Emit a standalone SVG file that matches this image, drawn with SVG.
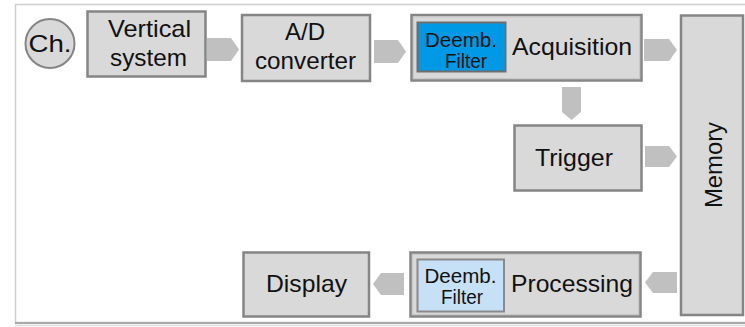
<svg xmlns="http://www.w3.org/2000/svg" width="745" height="327" viewBox="0 0 745 327">
  <style>
    .box { fill: #d9d9d9; stroke: #858585; stroke-width: 2.5; }
    .lbl { font-family: "Liberation Sans", Arial, sans-serif; font-size: 24px; fill: #111; text-anchor: middle; }
    .small { font-family: "Liberation Sans", Arial, sans-serif; font-size: 20px; fill: #111; text-anchor: middle; }
    .arrow { fill: #c0c0c0; }
  </style>
  <rect width="745" height="327" fill="#ffffff"/>
  <!-- outer frame -->
  <g id="frame">
    <rect x="15.5" y="4.5" width="740" height="318" fill="none" stroke="#cfcfcf" stroke-width="1.5"/>
    <line x1="15" y1="323" x2="745" y2="323" stroke="#a8a8a8" stroke-width="2"/>
    <line x1="15" y1="325.5" x2="745" y2="325.5" stroke="#dcdcdc" stroke-width="1.5"/>
  </g>

  <g id="connectors">
    <polygon class="arrow" points="207,38 231,38 239,49.5 231,61 207,61"/>
    <polygon class="arrow" points="374,40 398,40 406,51.5 398,63 374,63"/>
    <polygon class="arrow" points="644,39 669,39 677,50 669,61 644,61"/>
    <polygon class="arrow" points="562,87 581,87 581,112 571.5,120 562,112"/>
    <polygon class="arrow" points="645,146 669,146 677,156.5 669,167 645,167"/>
    <polygon class="arrow" points="677,272 677,293 653,293 645,282.5 653,272"/>
    <polygon class="arrow" points="404,273 404,295 381,295 373,284 381,273"/>
  </g>

  <g id="channel">
    <circle cx="50" cy="43.5" r="24.5" fill="#d9d9d9" stroke="#858585" stroke-width="2"/>
    <text class="lbl" x="50" y="52" style="font-size:24px" textLength="43" lengthAdjust="spacingAndGlyphs">Ch.</text>
  </g>

  <g id="vertical-system">
    <rect class="box" x="87.5" y="11.5" width="118" height="65"/>
    <text class="lbl" x="149.5" y="37" textLength="83" lengthAdjust="spacingAndGlyphs">Vertical</text>
    <text class="lbl" x="148.5" y="66" textLength="77" lengthAdjust="spacingAndGlyphs">system</text>
  </g>

  <g id="ad-converter">
    <rect class="box" x="242" y="15" width="128" height="66"/>
    <text class="lbl" x="305" y="40" textLength="40" lengthAdjust="spacingAndGlyphs">A/D</text>
    <text class="lbl" x="305.5" y="69" textLength="101" lengthAdjust="spacingAndGlyphs">converter</text>
  </g>

  <g id="acquisition">
    <rect class="box" x="411.5" y="15" width="230" height="65.5"/>
    <rect x="413.5" y="17" width="226" height="61.5" fill="none" stroke="#c8c8c8" stroke-width="1"/>
    <rect x="417.5" y="22.5" width="88" height="49" fill="#0099e6" stroke="#6e6e6e" stroke-width="2"/>
    <text class="small" x="461" y="47" textLength="72" lengthAdjust="spacingAndGlyphs">Deemb.</text>
    <text class="small" x="466" y="68" textLength="42" lengthAdjust="spacingAndGlyphs">Filter</text>
    <text class="lbl" x="572" y="55" textLength="120" lengthAdjust="spacingAndGlyphs">Acquisition</text>
  </g>

  <g id="trigger">
    <rect class="box" x="514.5" y="125.5" width="127" height="65"/>
    <text class="lbl" x="574" y="166" textLength="78" lengthAdjust="spacingAndGlyphs">Trigger</text>
  </g>

  <g id="memory">
    <rect class="box" x="681" y="15.5" width="62" height="299.5"/>
    <text class="lbl" transform="translate(722,165) rotate(-90)" x="0" y="0" textLength="86" lengthAdjust="spacingAndGlyphs">Memory</text>
  </g>

  <g id="processing">
    <rect class="box" x="410.5" y="252.5" width="230" height="64"/>
    <rect x="412.5" y="254.5" width="226" height="60" fill="none" stroke="#c8c8c8" stroke-width="1"/>
    <rect x="417.5" y="259.5" width="86.5" height="52" fill="#c6e0f6" stroke="#8a8a8a" stroke-width="2"/>
    <text class="small" x="460.5" y="283" textLength="72" lengthAdjust="spacingAndGlyphs">Deemb.</text>
    <text class="small" x="462" y="304" textLength="42" lengthAdjust="spacingAndGlyphs">Filter</text>
    <text class="lbl" x="572" y="292" textLength="122" lengthAdjust="spacingAndGlyphs">Processing</text>
  </g>

  <g id="display">
    <rect class="box" x="243.5" y="252.5" width="125.5" height="64"/>
    <text class="lbl" x="306.5" y="292" textLength="81" lengthAdjust="spacingAndGlyphs">Display</text>
  </g>
</svg>
